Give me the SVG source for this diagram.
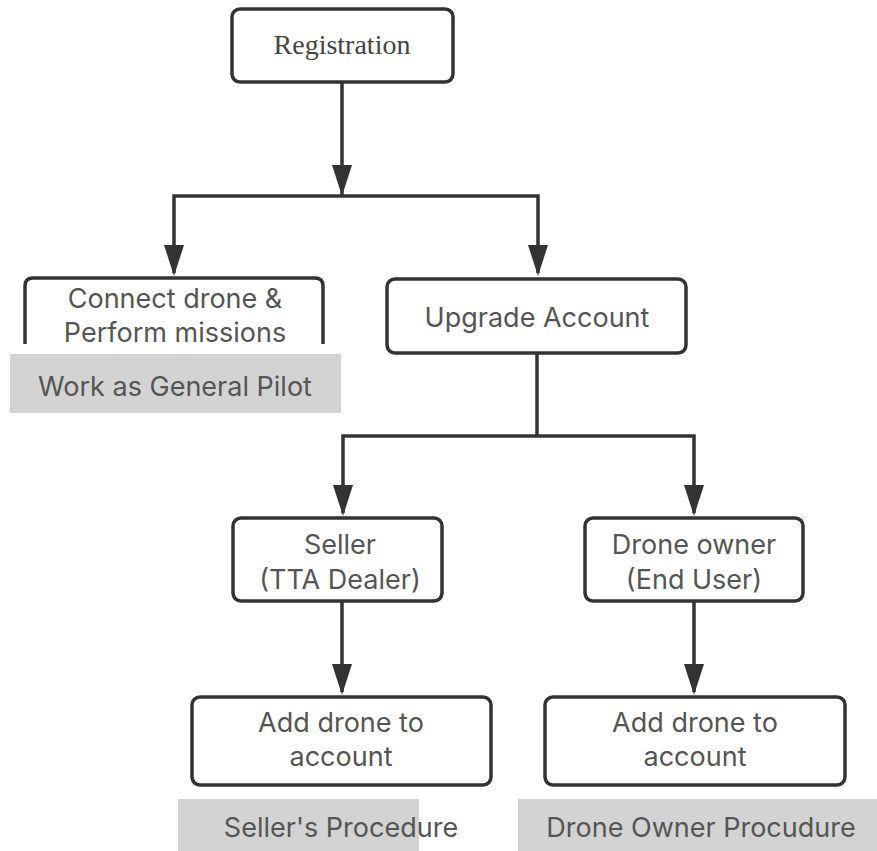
<svg xmlns="http://www.w3.org/2000/svg" width="877" height="851" viewBox="0 0 877 851">
<style>
.box{fill:#fff;stroke:#333;stroke-width:3.5}
.edge{fill:none;stroke:#333;stroke-width:3.5}
.head{fill:#333}
.t{font-family:Inter,"Open Sans",sans-serif;font-size:27px;fill:#555;text-anchor:middle}
.ts{font-family:"Liberation Serif",serif;font-size:28px;fill:#444;text-anchor:middle}
.lbl{fill:#d3d3d3}
</style>
<rect width="877" height="851" fill="#fff"/>
<g id="connectors">
<path class="edge" d="M342,82 V195"/>
<path class="head" d="M332,165 L352,165 L342,196 Z"/>
<path class="edge" d="M174,273 V196 H538 V273"/>
<path class="head" d="M164,245 L184,245 L174,276 Z"/>
<path class="head" d="M528,245 L548,245 L538,276 Z"/>
<path class="edge" d="M537,353 V436"/>
<path class="edge" d="M343,513 V436 H694 V513"/>
<path class="head" d="M333,485 L353,485 L343,516 Z"/>
<path class="head" d="M684,485 L704,485 L694,516 Z"/>
<path class="edge" d="M342,601 V692"/>
<path class="head" d="M332,664 L352,664 L342,695 Z"/>
<path class="edge" d="M694,601 V692"/>
<path class="head" d="M684,664 L704,664 L694,695 Z"/>
</g>
<g id="registration">
<rect class="box" x="232" y="9" width="221" height="73" rx="8"/>
<text class="ts" x="342" y="54">Registration</text>
</g>
<g id="connect">
<path class="box" d="M25,344 V286 Q25,278 33,278 H315 Q323,278 323,286 V344"/>
<text class="t" x="175" y="308">Connect drone &amp;</text>
<text class="t" x="175" y="342">Perform missions</text>
</g>
<g id="general-pilot">
<rect class="lbl" x="10" y="354" width="331" height="59"/>
<text class="t" x="175" y="396">Work as General Pilot</text>
</g>
<g id="upgrade">
<rect class="box" x="387" y="279" width="299" height="74" rx="8"/>
<text class="t" x="537" y="327">Upgrade Account</text>
</g>
<g id="seller">
<rect class="box" x="233" y="518" width="209" height="83" rx="8"/>
<text class="t" x="340" y="554">Seller</text>
<text class="t" x="340" y="589">(TTA Dealer)</text>
</g>
<g id="drone-owner">
<rect class="box" x="585" y="518" width="218" height="83" rx="8"/>
<text class="t" x="694" y="554">Drone owner</text>
<text class="t" x="694" y="589">(End User)</text>
</g>
<g id="add-seller">
<rect class="box" x="192" y="697" width="299" height="88" rx="8"/>
<text class="t" x="341" y="732">Add drone to</text>
<text class="t" x="341" y="766">account</text>
</g>
<g id="add-owner">
<rect class="box" x="545" y="697" width="300" height="88" rx="8"/>
<text class="t" x="695" y="732">Add drone to</text>
<text class="t" x="695" y="766">account</text>
</g>
<g id="seller-proc">
<rect class="lbl" x="178" y="799" width="241" height="52"/>
<text class="t" x="341" y="837">Seller's Procedure</text>
</g>
<g id="owner-proc">
<rect class="lbl" x="518" y="799" width="359" height="52"/>
<text class="t" x="701" y="837">Drone Owner Procudure</text>
</g>
</svg>
